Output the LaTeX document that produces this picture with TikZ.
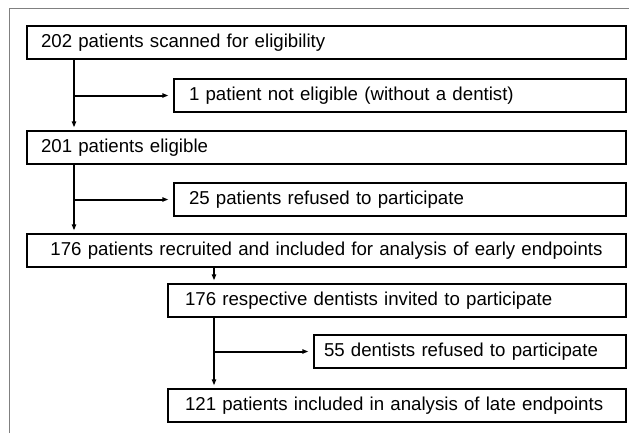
\documentclass[tikz,border=0pt]{standalone}
\usepackage{fontspec}
\setmainfont{Liberation Sans}
\usetikzlibrary{arrows.meta}
\definecolor{framegray}{RGB}{128,128,128}
\tikzset{
  box/.style={draw, line width=1.5pt, anchor=north west, inner ysep=0pt,
    minimum height=24.75pt, align=left, font=\fontsize{14}{16}\selectfont},
  wide/.style={minimum width=449.25pt, inner xsep=10.5pt, text width=428.25pt},
  mid/.style={minimum width=339pt, inner xsep=11.25pt, text width=316.5pt},
  low/.style={minimum width=343.5pt, inner xsep=12.75pt, text width=318pt},
  small/.style={minimum width=234pt, inner xsep=7.5pt, text width=219pt},
  conn/.style={line width=1.5pt, -{Triangle[length=4.5pt,width=3.2pt]}, shorten >=2pt},
  side/.style={conn, shorten >=3.5pt},
  frame/.style={draw=framegray, line width=0.75pt}
}
\begin{document}
\begin{tikzpicture}[x=0.75pt,y=-0.75pt]
\useasboundingbox (0,0) rectangle (629,433);
\coordinate (fl) at (9,433);
\coordinate (fc) at (9,8);
\coordinate (fr) at (629,8);
\draw[frame] (fl) -- (fc) -- (fr);

\node[box,wide] (b1) at (26,25) {\mbox{202 patients scanned for eligibility}};
\node[box,mid]  (b2) at (173,78) {\mbox{1 patient not eligible (without a dentist)}};
\node[box,wide] (b3) at (26,130) {\mbox{201 patients eligible}};
\node[box,mid]  (b4) at (173,182) {\mbox{25 patients refused to participate}};
\node[box,wide,align=center] (b5) at (26,233) {\mbox{176 patients recruited and included for analysis of early endpoints}};
\node[box,low]  (b6) at (167,283) {\mbox{176 respective dentists invited to participate}};
\node[box,small] (b7) at (313,334) {\mbox{55 dentists refused to participate}};
\node[box,low]  (b8) at (167,388) {\mbox{121 patients included in analysis of late endpoints}};

\path (b1.south west) ++(48,0) coordinate (s1);
\draw[conn] (s1) -- (s1 |- b3.north);
\draw[side] (s1 |- b2.west) -- (b2.west);

\path (b3.south west) ++(48,0) coordinate (s2);
\draw[conn] (s2) -- (s2 |- b5.north);
\draw[side] (s2 |- b4.west) -- (b4.west);

\path (b6.north west) ++(47,0) coordinate (s3);
\draw[conn] (s3 |- b5.south) -- (s3);
\draw[conn] (s3 |- b6.south) -- (s3 |- b8.north);
\draw[side] (s3 |- b7.west) -- (b7.west);
\end{tikzpicture}
\end{document}
